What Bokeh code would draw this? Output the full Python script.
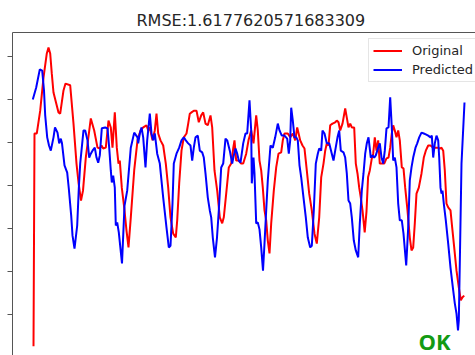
from bokeh.plotting import figure
from bokeh.models import FixedTicker, Label, Legend, LegendItem
from bokeh.embed import file_html
from bokeh.resources import INLINE

title_text = "RMSE:1.6177620571683309"
series_names = ["Original", "Predicted"]
y_ticks = [0, 1, 2, 3, 4, 5, 6]

orig_t = [0, 0.5, 1.65, 3.35, 5, 6.65, 7.5, 8.35, 9.15, 10, 12.5, 13.35, 15, 16, 18.35, 20, 21.5, 22.5,
          23.75, 24.75, 26.15, 28.65, 30.35, 32, 33.15, 34, 34.85, 36.15, 37.5, 38.65, 39.5, 40.65,
          41.65, 42.5, 43.15, 44.15, 45.35, 46.5, 47.5, 48.65, 50.35, 52, 53.5, 54.85, 56.5, 57.35,
          58.15, 59.5, 60.65, 61.5, 62.35, 63.5, 64.85, 66.15, 67.35, 68.5, 69.85, 71.15, 71.85,
          72.85, 74, 75.15, 76.5, 77.35, 78.15, 79, 80.15, 81.5, 82.65, 83.85, 84.85, 86, 87.15,
          88.5, 89.35, 90.5, 91.85, 93.15, 94.35, 95.15, 96.5, 97.65, 98.85, 99.85, 100.5, 101.35,
          102.65, 103.85, 104.85, 106.35, 107.5, 108.85, 110, 111.35, 112.15, 113, 113.85, 114.65,
          115.5, 116.35, 117.15, 118, 118.85, 120.15, 121.35, 122.5, 123.85, 124.65, 125.5, 127.15,
          128.35, 129.65, 130.85, 131.85, 133.35, 134.5, 135.5, 136.65, 137.85, 139.15, 140.5,
          141.65, 142.85, 143.85, 145, 145.85, 146.65, 147.5, 148.35, 149.5, 150.85, 151.65, 152.5,
          153.35, 154.5, 155.85, 156.65, 157.5, 158.35, 159.15, 160.35, 161.15, 162, 162.85, 163.65,
          164.5, 165.6, 166.5, 167.3, 168.15, 169.15, 169.85, 170.65, 171.5, 172.35, 173.15, 174,
          175.35, 176.5, 177.5, 178.35, 179.15, 179.85, 180.65, 181.5, 182.35, 183.15, 184.15, 185,
          185.85, 187, 188.15, 189, 189.85, 190.65, 191.5, 192.65, 194, 195.15, 196.15, 197.35,
          198.5, 199.85, 201.15, 202.35, 203.15, 204, 204.85, 205.65, 206.5, 207.35, 208.5, 209.35,
          210.35, 211.5, 212.65, 213.65, 214.5, 215.35]
orig_v = [-0.74, 4.21, 4.21, 4.74, 5.51, 6.07, 6.21, 6.07, 5.60, 5.16, 4.70, 4.67, 5.21, 5.37, 5.33,
          4.44, 3.51, 3.07, 2.65, 2.88, 3.65, 4.56, 4.28, 3.88, 3.86, 3.93, 3.86, 3.88, 4.51, 4.35,
          3.88, 4.70, 3.88, 3.51, 3.58, 2.95, 2.49, 1.95, 1.56, 2.26, 3.35, 4.05, 4.28, 4.35, 4.40,
          4.28, 4.35, 4.05, 4.28, 4.67, 4.21, 4.05, 3.93, 3.51, 2.95, 2.26, 1.88, 1.79, 2.19, 3.05,
          3.81, 4.12, 4.21, 4.44, 4.67, 4.70, 4.74, 4.74, 4.47, 4.63, 4.70, 4.44, 4.40, 4.63, 4.35,
          3.35, 2.88, 2.26, 2.12, 2.26, 2.88, 3.42, 3.51, 3.86, 4.05, 3.58, 3.58, 3.51, 3.51, 3.74,
          4.05, 4.28, 3.98, 4.63, 4.28, 3.58, 3.35, 2.95, 2.42, 2.19, 1.72, 1.42, 2.12, 2.88, 3.42,
          3.74, 3.77, 4.05, 4.21, 4.21, 4.12, 4.21, 4.05, 4.35, 4.05, 3.93, 3.86, 3.35, 2.81, 2.42,
          1.88, 1.65, 2.26, 3.19, 3.51, 3.81, 3.98, 3.93, 4.40, 4.44, 4.47, 4.51, 4.47, 4.28, 4.44,
          4.79, 4.58, 4.35, 4.44, 4.35, 4.35, 3.51, 3.28, 2.95, 2.72, 2.42, 1.91, 2.40, 3.20, 3.35,
          3.63, 3.74, 4.12, 3.81, 4.05, 3.51, 3.51, 3.51, 3.63, 3.65, 3.88, 4.21, 4.40, 4.28, 4.12,
          4.28, 4.05, 3.42, 3.40, 2.95, 2.42, 1.79, 1.49, 1.56, 2.12, 2.81, 2.95, 3.28, 3.65, 3.81,
          3.93, 3.93, 3.88, 3.88, 3.88, 3.86, 3.88, 3.81, 3.35, 2.58, 2.49, 2.42, 2.02, 1.56, 1.02,
          0.63, 0.33, 0.40, 0.44]

pred_t = [-0.35, 1.35, 3.15, 4.35, 5.25, 5.85, 6.85, 7.75, 8.65, 10, 10.75, 12, 12.85, 13.65, 14.25,
          15.5, 16.85, 17.65, 18.85, 19.5, 20.5, 21.85, 22.65, 23.35, 25, 25.85, 27, 27.85, 28.65,
          29.5, 30.65, 31.5, 32.35, 33.15, 34.15, 35.85, 37, 37.85, 38.65, 39.15, 39.85, 40.65,
          41.15, 41.85, 42.65, 44.25, 45.5, 46.85, 48.65, 50.35, 52, 52.35, 53.15, 54, 54.85, 56,
          56.85, 58.15, 59, 59.85, 60.65, 61.85, 63.15, 64.85, 66.5, 67.65, 68.5, 69.5, 70.15, 71.5,
          72.85, 74, 75.15, 76.15, 77.35, 78.5, 79.35, 80.15, 81, 82.15, 83.15, 84.35, 85.15, 86,
          87.15, 88.15, 88.85, 89.65, 90.75, 91.75, 92.65, 93.85, 94.85, 96, 96.85, 98.15, 99.35,
          100.15, 101, 101.85, 102.65, 103.5, 104.85, 106, 106.85, 108, 108.85, 109.15, 110, 110.5,
          111.35, 112.15, 113, 113.85, 114.75, 115.5, 116.35, 117.15, 118.5, 119.65, 120.85, 122.15,
          123, 124.15, 125.5, 126.85, 127.65, 128.35, 128.85, 129.65, 130.5, 131.35, 132.15, 133,
          133.85, 135, 136.15, 137.15, 138.35, 139.15, 140.15, 141.15, 142.15, 142.85, 143.85, 144.5,
          145.5, 146.65, 147.85, 149.15, 150, 150.85, 152, 152.85, 153.65, 155, 155.85, 156.65,
          157.5, 158.35, 159.15, 160.15, 161.15, 162.35, 163.15, 164.15, 165, 165.85, 166.65, 167.5,
          168.65, 169.5, 170.35, 171.15, 172.35, 173.15, 174, 174.85, 175.65, 176.5, 177.5, 178.35,
          179.15, 179.85, 180.65, 181.5, 182.35, 183.15, 184.15, 185, 186.35, 187.35, 188.15, 189,
          189.85, 191, 191.85, 192.85, 194, 195.15, 196.15, 197.35, 198.5, 199.15, 199.85, 200.65,
          201.5, 202.35, 202.85, 203.5, 204, 204.5, 205.15, 206.15, 207.35, 208.5, 209.85, 210.65,
          211.5, 212.25, 212.65, 213.15, 214, 215.5]
pred_v = [5.00, 5.28, 5.70, 5.67, 5.21, 4.63, 4.12, 3.93, 3.81, 4.12, 4.35, 4.23, 3.98, 4.09, 3.98,
          3.47, 3.30, 2.93, 2.30, 1.84, 1.53, 2.07, 2.93, 3.51, 4.28, 4.28, 4.05, 3.65, 3.74, 3.81,
          3.88, 3.65, 3.53, 3.70, 4.33, 4.35, 4.33, 3.88, 3.35, 3.07, 3.23, 2.95, 2.07, 2.14, 1.91,
          1.19, 2.53, 2.88, 3.88, 4.23, 4.12, 3.98, 4.21, 4.35, 4.12, 3.42, 4.05, 4.67, 4.21, 4.05,
          4.21, 3.74, 3.51, 2.72, 2.02, 1.56, 1.60, 2.58, 3.51, 3.74, 3.88, 4.05, 4.12, 4.05, 3.98,
          3.93, 3.58, 3.88, 4.12, 4.16, 3.81, 3.77, 3.65, 3.28, 2.72, 2.42, 2.26, 1.79, 1.33, 1.79,
          2.42, 3.42, 3.51, 4.09, 4.05, 3.81, 3.51, 3.70, 3.86, 3.74, 3.58, 3.53, 3.98, 4.21, 4.21,
          4.98, 4.28, 3.05, 3.65, 3.28, 2.12, 2.14, 1.98, 1.56, 1.02, 1.65, 2.42, 3.12, 3.93, 3.88,
          4.12, 4.44, 4.28, 4.16, 4.16, 4.09, 3.74, 4.05, 4.81, 4.51, 4.12, 4.12, 4.05, 3.47, 3.19,
          2.72, 2.26, 1.79, 1.56, 1.60, 2.42, 3.51, 3.74, 3.86, 3.81, 4.28, 4.21, 3.98, 3.98, 3.74,
          3.58, 3.81, 4.12, 4.28, 3.81, 3.77, 3.65, 3.28, 2.65, 2.58, 2.26, 1.72, 1.49, 1.33, 2.12,
          2.88, 3.28, 3.74, 3.98, 4.12, 3.65, 3.70, 3.65, 3.70, 3.88, 3.98, 3.65, 3.51, 3.81, 4.33,
          4.35, 5.05, 4.35, 3.58, 3.65, 3.42, 2.58, 2.19, 2.19, 1.88, 1.14, 2.02, 3.12, 3.42, 3.65,
          3.88, 3.98, 4.12, 4.23, 4.21, 4.19, 4.16, 4.12, 4.16, 3.65, 3.98, 4.16, 4.05, 3.65, 2.95,
          2.81, 2.88, 2.58, 2.19, 1.65, 1.09, 0.56, 0.26, 0.02, -0.37, -0.14, 1.19, 3.51, 4.93]

p = figure(width=475, height=355, x_range=(-10.5, 221), y_range=(-0.953, 6.558),
           output_backend="svg", toolbar_location=None, x_axis_location="above",
           min_border_left=12, min_border_top=32, min_border_right=0, min_border_bottom=0)
p.background_fill_color = "white"
p.border_fill_color = "white"
p.outline_line_color = None
p.grid.visible = False

# top spine
xa = p.xaxis[0]
xa.ticker = FixedTicker(ticks=[])
xa.major_tick_out = 0
xa.major_tick_in = 0
xa.minor_tick_out = 0
xa.minor_tick_in = 0
xa.major_label_text_font_size = "1px"
xa.major_label_text_color = None
xa.major_label_standoff = 0
xa.axis_line_color = "#555555"
xa.axis_line_width = 1

ya = p.yaxis[0]
ya.ticker = FixedTicker(ticks=y_ticks, minor_ticks=[])
ya.major_tick_out = 5
ya.major_tick_in = 0
ya.minor_tick_out = 0
ya.minor_tick_in = 0
ya.major_label_text_font_size = "1px"
ya.major_label_text_color = None
ya.major_label_standoff = 0
ya.axis_line_color = "#555555"
ya.major_tick_line_color = "#555555"
ya.axis_line_width = 1

p.title.text = title_text
p.title.align = "left"
p.title.offset = 124
p.title.text_font = "DejaVu Sans"
p.title.text_font_size = "16px"
p.title.text_font_style = "normal"
p.title.text_color = "#262626"
p.title.standoff = 6

r1 = p.line(orig_t, orig_v, line_color="#ff0000", line_width=2)
r2 = p.line(pred_t, pred_v, line_color="#0000ff", line_width=2)

legend = Legend(items=[LegendItem(label=series_names[0], renderers=[r1]),
                       LegendItem(label=series_names[1], renderers=[r2])],
                location=(356, 273))
legend.label_text_font = "DejaVu Sans"
legend.label_text_font_size = "13px"
legend.label_text_color = "#262626"
legend.label_height = 15
legend.glyph_height = 15
legend.glyph_width = 29
legend.label_standoff = 10
legend.spacing = 4
legend.padding = 4
legend.margin = 0
legend.border_line_color = "#cccccc"
legend.border_line_width = 1
legend.background_fill_alpha = 0.8
p.add_layout(legend, "center")

ok = Label(x=406, y=0, x_units="screen", y_units="screen", text="OK",
           text_font="Open Sans", text_font_size="22px", text_font_style="bold",
           text_color="#139a13")
p.add_layout(ok)

open("out.html", "w").write(file_html(p, INLINE))
